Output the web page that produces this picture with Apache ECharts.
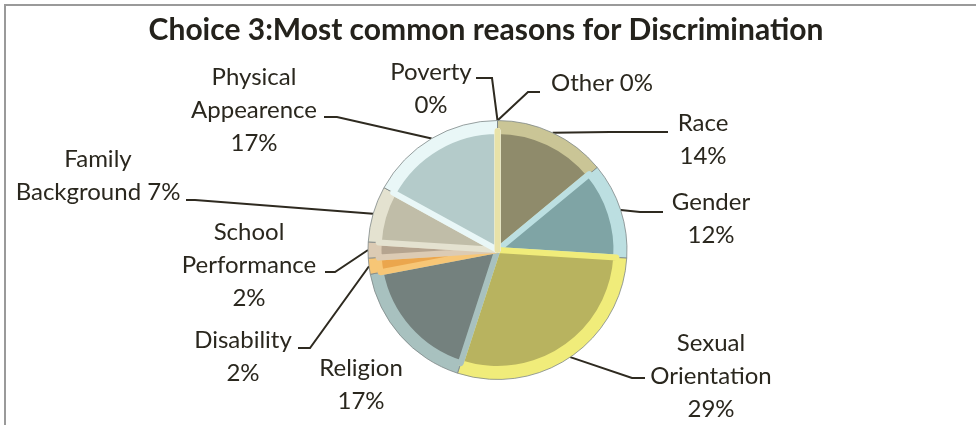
<!DOCTYPE html>
<html><head><meta charset="utf-8">
<script src="https://cdn.jsdelivr.net/npm/echarts@6/dist/echarts.min.js"></script>
<style>html,body{margin:0;padding:0;background:#fff}#c{width:976px;height:425px}</style>
</head><body><div id="c"></div>
<script>
const titleText = 'Choice 3:Most common reasons for Discrimination';
const categories = ['Race', 'Gender', 'Sexual Orientation', 'Religion', 'Disability', 'School Performance', 'Family Background', 'Physical Appearence', 'Poverty', 'Other'];
const values = [14, 12, 29, 17, 2, 2, 7, 17, 0, 0];
const pctSameLine = ['Family Background', 'Other'];

// styling (not data)
const faceColors  = ['#8f8b6b', '#7fa4a5', '#b8b35f', '#74817e', '#eba64d', '#b5a48f', '#c0bda8', '#b4cbca', '#ffffff', '#e8e2a8'];
const bevelColors = ['#cac596', '#bcdfe1', '#f0ec7a', '#a8c1bf', '#f7c676', '#dccbb4', '#e4e2d0', '#e9f7f7', '#ffffff', '#e8e2a8'];
// label centre x, y, then leader elbow x, y and end x, y
const placement = [
  [703, 140, 610, 132, 668, 132],
  [711, 219, 640, 212, 663, 212],
  [711, 376, 632, 378, 645, 378],
  [361, 385],
  [243, 357, 310, 348, 298, 348],
  [249, 265, 335, 272, 325, 272],
  [98, 176, 195, 200, 186, 200],
  [254, 110, 337, 117, 324, 117],
  [431, 89, 492, 78, 476, 78],
  [602, 83, 528, 92, 540, 92]
];
const FONT = 'Lato';
const TEXT = '#2a271e';
const CENTER = [497.5, 250];

function labelText(p) {
  const name = categories[p.dataIndex];
  const pct = Math.round(p.percent) + '%';
  const words = name.split(' ');
  if (pctSameLine.indexOf(name) >= 0) {
    words[words.length - 1] += ' ' + pct;
    return words.join('\n');
  }
  return words.join('\n') + '\n' + pct;
}

const bevelData = categories.map((c, i) => ({
  name: c, value: values[i],
  itemStyle: { color: bevelColors[i] },
  labelLine: { show: placement[i].length > 2 }
}));
const faceData = categories.map((c, i) => ({
  name: c, value: values[i],
  itemStyle: { color: faceColors[i], borderColor: bevelColors[i] }
}));

const chart = echarts.init(document.getElementById('c'), null, { renderer: 'canvas' });
chart.setOption({
  animation: false,
  backgroundColor: '#ffffff',
  title: {
    text: titleText, left: 481, top: 10, textAlign: 'center',
    textStyle: { fontFamily: FONT, fontWeight: 'bold', fontSize: 30, color: '#24221c' }
  },
  graphic: [{
    type: 'rect', shape: { x: 5, y: 5, width: 1100, height: 600 },
    style: { fill: 'none', stroke: '#9a9a9a', lineWidth: 2 }, silent: true, z: 100
  }],
  series: [{
    type: 'pie', center: CENTER, radius: [0, 129.5], startAngle: 90, clockwise: true,
    avoidLabelOverlap: false,
    itemStyle: { borderColor: '#7f8888', borderWidth: 0.8 },
    label: {
      show: true, position: 'outside', formatter: labelText,
      fontFamily: FONT, fontSize: 24, lineHeight: 33, color: TEXT
    },
    labelLine: { show: true, lineStyle: { color: '#2e2a20', width: 2 } },
    labelLayout: function (p) {
      const pl = placement[p.dataIndex];
      const res = { x: pl[0], y: pl[1], align: 'center', verticalAlign: 'middle' };
      const pts = p.labelLinePoints;
      if (pl.length > 2 && pts) res.labelLinePoints = [pts[0], [pl[2], pl[3]], [pl[4], pl[5]]];
      return res;
    },
    emphasis: { disabled: true },
    data: bevelData, z: 2
  }, {
    type: 'pie', center: CENTER, radius: [0, 119], startAngle: 90, clockwise: true,
    itemStyle: { borderWidth: 6 },
    label: { show: false }, labelLine: { show: false },
    emphasis: { disabled: true }, silent: true,
    data: faceData, z: 3
  }]
});
</script></body></html>
